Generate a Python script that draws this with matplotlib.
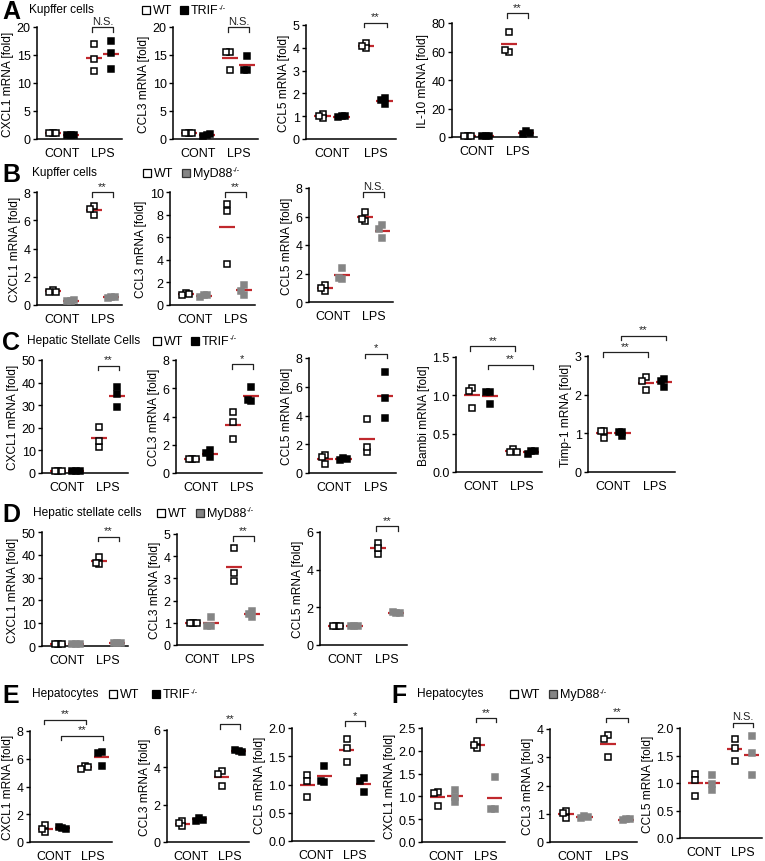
import numpy as np
import matplotlib
matplotlib.use('Agg')
import matplotlib.pyplot as plt
from matplotlib.patches import Rectangle
from matplotlib.text import Annotation

plt.rcParams['font.family'] = ['Liberation Sans', 'DejaVu Sans']

W, H = 765, 862
RED = '#c0282d'
GRAY = '#858585'
POS = [0.0, 1.0, 2.3, 3.3]   # WT CONT, KO CONT, WT LPS, KO LPS

# values: [CONT, LPS], three mice each
a1_wt = [[1.0, 1.0, 1.0], [17.0, 14.2, 12.2]]
a1_ko = [[0.8, 0.7, 0.75], [17.5, 15.4, 12.5]]
a2_wt = [[1.0, 1.0, 1.0], [15.5, 15.5, 12.3]]
a2_ko = [[0.8, 0.5, 0.9], [14.8, 12.3, 12.3]]
a3_wt = [[1.1, 0.9, 1.0], [4.2, 4.0, 4.1]]
a3_ko = [[1.0, 0.95, 1.0], [1.8, 1.55, 1.7]]
a4_wt = [[1.0, 1.0, 1.0], [60.0, 74.0, 61.0]]
a4_ko = [[0.5, 0.5, 0.5], [4.0, 2.0, 3.0]]

b1_wt = [[1.05, 0.9, 0.95], [6.4, 7.0, 6.8]]
b1_ko = [[0.3, 0.28, 0.35], [0.6, 0.5, 0.55]]
b2_wt = [[1.1, 0.9, 1.0], [8.9, 3.6, 8.3]]
b2_ko = [[0.9, 0.7, 0.85], [0.9, 1.75, 1.25]]
b3_wt = [[1.2, 0.8, 1.0], [5.7, 6.3, 5.8]]
b3_ko = [[1.6, 2.4, 1.7], [5.4, 4.5, 5.1]]

c1_wt = [[1.0, 1.0, 1.0], [11.5, 20.3, 14.3]]
c1_ko = [[1.0, 1.0, 1.0], [38.0, 29.0, 35.0]]
c2_wt = [[1.0, 1.0, 1.0], [2.4, 4.3, 3.6]]
c2_ko = [[1.1, 1.6, 1.4], [5.1, 6.1, 5.2]]
c3_wt = [[0.65, 1.25, 1.1], [1.45, 3.75, 1.8]]
c3_ko = [[1.05, 0.9, 1.0], [7.0, 5.25, 3.8]]
c4_wt = [[1.1, 0.84, 1.06], [0.3, 0.26, 0.26]]
c4_ko = [[1.05, 0.89, 1.05], [0.27, 0.23, 0.27]]
c5_wt = [[1.06, 0.88, 1.06], [2.45, 2.12, 2.35]]
c5_ko = [[1.04, 0.92, 1.03], [2.2, 2.4, 2.35]]

d1_wt = [[1.0, 1.0, 1.0], [39.0, 36.0, 36.5]]
d1_ko = [[1.0, 1.0, 1.0], [1.5, 1.5, 1.5]]
d2_wt = [[1.0, 1.0, 1.0], [2.9, 4.35, 3.25]]
d2_ko = [[1.25, 0.85, 0.85], [1.25, 1.55, 1.4]]
d3_wt = [[1.0, 1.0, 1.0], [4.85, 5.4, 5.15]]
d3_ko = [[1.0, 1.0, 1.0], [1.7, 1.75, 1.7]]

e1_wt = [[1.2, 0.75, 0.95], [5.5, 5.25, 5.4]]
e1_ko = [[1.0, 1.05, 0.95], [6.5, 5.5, 6.4]]
e2_wt = [[1.1, 0.85, 1.0], [3.8, 3.0, 3.65]]
e2_ko = [[1.3, 1.15, 1.2], [4.9, 4.95, 4.8]]
e3_wt = [[1.17, 0.77, 1.06], [1.4, 1.8, 1.65]]
e3_ko = [[1.04, 1.33, 1.06], [1.12, 0.86, 1.07]]

f1_wt = [[1.1, 0.78, 1.08], [2.22, 2.07, 2.12]]
f1_ko = [[0.88, 1.15, 0.98], [1.42, 0.73, 0.73]]
f2_wt = [[1.08, 0.85, 1.02], [3.8, 3.0, 3.65]]
f2_ko = [[0.92, 0.85, 0.9], [0.8, 0.78, 0.8]]
f3_wt = [[1.17, 0.76, 1.06], [1.4, 1.8, 1.63]]
f3_ko = [[0.88, 1.14, 0.98], [1.15, 1.85, 1.55]]

# significance brackets: (group a, group b, height, label)
a1_sig = [(2, 3, 20.0, 'N.S.')]
a2_sig = [(2, 3, 20.0, 'N.S.')]
a3_sig = [(2, 3, 5.1, '**')]
a4_sig = [(2, 3, 87.0, '**')]
b1_sig = [(2, 3, 8.0, '**')]
b2_sig = [(2, 3, 10.0, '**')]
b3_sig = [(2, 3, 7.7, 'N.S.')]
c1_sig = [(2, 3, 47.5, '**')]
c2_sig = [(2, 3, 7.7, '*')]
c3_sig = [(2, 3, 8.3, '*')]
c4_sig = [(0, 2, 1.64, '**'), (1, 3, 1.4, '**')]
c5_sig = [(0, 2, 3.1, '**'), (1, 3, 3.52, '**')]
d1_sig = [(2, 3, 48.0, '**')]
d2_sig = [(2, 3, 4.9, '**')]
d3_sig = [(2, 3, 6.3, '**')]
e1_sig = [(0, 2, 8.8, '**'), (1, 3, 7.65, '**')]
e2_sig = [(2, 3, 6.3, '**')]
e3_sig = [(2, 3, 2.12, '*')]
f1_sig = [(2, 3, 2.72, '**')]
f2_sig = [(2, 3, 4.4, '**')]
f3_sig = [(2, 3, 2.1, 'N.S.')]

fig = plt.figure(figsize=(W / 100, H / 100), dpi=100)


def swarm(vals, h, s=0.2):
    # spread overlapping points sideways
    placed = []
    offs = []
    for v in vals:
        for o in [0, -s, s, -2 * s, 2 * s]:
            if all(abs(o - po) > s * 0.9 or abs(v - pv) > h for po, pv in placed):
                break
        placed.append((o, v))
        offs.append(o)
    return offs


def panel(rect, ylabel, yticks, wt, ko, ko_color, sig, fmt=None):
    l, t, r, b = rect
    ax = fig.add_axes([l / W, 1 - b / H, (r - l) / W, (b - t) / H])
    ymax = yticks[-1]
    ax.set_xlim(-0.9, 3.9)
    ax.set_ylim(0, ymax)
    h = 4.5 * ymax / (b - t)
    groups = [(wt[0], 'white'), (ko[0], ko_color), (wt[1], 'white'), (ko[1], ko_color)]
    for gi, (vals, fc) in enumerate(groups):
        x0 = POS[gi]
        ax.plot([x0 - 0.45, x0 + 0.45], [np.mean(vals)] * 2, color=RED, lw=1.6,
                zorder=2, clip_on=False, solid_capstyle='butt')
        offs = swarm(vals, h)
        ec = 'black' if fc == 'white' else fc
        ax.plot(x0 + np.array(offs), vals, ls='none', marker='s', ms=4.4, mfc=fc,
                mec=ec, mew=1.1, zorder=3, clip_on=False)
    drop = 4.5 * ymax / (b - t)
    for g1, g2, y, txt in sig:
        x1, x2 = POS[g1] - 0.1, POS[g2] + 0.1
        ax.plot([x1, x1, x2, x2], [y - drop, y, y, y - drop], color='#222222',
                lw=0.9, clip_on=False)
        ax.text((x1 + x2) / 2, y + 0.3 * drop, txt, ha='center', va='bottom',
                fontsize=8, color='#222222')
    ax.set_yticks(yticks)
    if fmt:
        ax.set_yticklabels([fmt % v for v in yticks])
    ax.set_xticks([0.5, 2.8])
    ax.set_xticklabels(['CONT', 'LPS'])
    ax.tick_params(axis='x', length=0, pad=6, labelsize=9)
    ax.tick_params(axis='y', length=3, width=1, pad=1.5, labelsize=9)
    for sp in ['top', 'right']:
        ax.spines[sp].set_visible(False)
    for sp in ['left', 'bottom']:
        ax.spines[sp].set_linewidth(1.1)
    ax.set_ylabel(ylabel, fontsize=8.6, labelpad=2)
    ax.patch.set_alpha(0)
    return ax


def header(letter, lx, title, tx, y, sq1, sq2, ko_label, ko_color):
    fig.text(lx / W, 1 - y / H, letter, fontsize=18, fontweight='bold',
             ha='left', va='center')
    fig.text(tx / W, 1 - (y - 2) / H, title, fontsize=8.6, ha='left', va='center')
    for cx, fc, ec, lab in [(sq1, 'white', 'black', 'WT'),
                            (sq2, ko_color, '#333333' if ko_color != 'black' else 'black',
                             ko_label)]:
        fig.add_artist(Rectangle(((cx - 4) / W, 1 - (y + 3) / H), 8 / W, 8 / H,
                                 transform=fig.transFigure, facecolor=fc,
                                 edgecolor=ec, lw=0.9))
        tt = fig.text((cx + 7) / W, 1 - (y - 1) / H, lab, fontsize=9, ha='left',
                      va='center')
        if lab != 'WT':
            sup = Annotation('-/-', xy=(1.0, 0.75), xycoords=tt, fontsize=5.5,
                             ha='left', va='center')
            fig.add_artist(sup)


header('A', 2, 'Kupffer cells', 29, 12, 146, 184, 'TRIF', 'black')
panel((37, 28, 122, 140), 'CXCL1 mRNA [fold]', [0, 5, 10, 15, 20], a1_wt, a1_ko, 'black', a1_sig)
panel((173, 28, 258, 140), 'CCL3 mRNA [fold]', [0, 5, 10, 15, 20], a2_wt, a2_ko, 'black', a2_sig)
panel((306, 26, 396, 140), 'CCL5 mRNA [fold]', [0, 1, 2, 3, 4, 5], a3_wt, a3_ko, 'black', a3_sig)
panel((452, 24, 537, 138), 'IL-10 mRNA [fold]', [0, 20, 40, 60, 80], a4_wt, a4_ko, 'black', a4_sig)

header('B', 2, 'Kupffer cells', 32, 175, 147, 186, 'MyD88', GRAY)
panel((37, 193, 122, 306), 'CXCL1 mRNA [fold]', [0, 2, 4, 6, 8], b1_wt, b1_ko, GRAY, b1_sig)
panel((170, 193, 255, 306), 'CCL3 mRNA [fold]', [0, 2, 4, 6, 8, 10], b2_wt, b2_ko, GRAY, b2_sig)
panel((309, 189, 393, 303), 'CCL5 mRNA [fold]', [0, 2, 4, 6, 8], b3_wt, b3_ko, GRAY, b3_sig)

header('C', 2, 'Hepatic Stellate Cells', 27, 343, 157, 195, 'TRIF', 'black')
panel((42, 361, 128, 474), 'CXCL1 mRNA [fold]', [0, 10, 20, 30, 40, 50], c1_wt, c1_ko, 'black', c1_sig)
panel((176, 361, 262, 474), 'CCL3 mRNA [fold]', [0, 2, 4, 6, 8], c2_wt, c2_ko, 'black', c2_sig)
panel((309, 359, 396, 474), 'CCL5 mRNA [fold]', [0, 2, 4, 6, 8], c3_wt, c3_ko, 'black', c3_sig)
panel((456, 358, 542, 473), 'Bambi mRNA [fold]', [0, 0.5, 1.0, 1.5], c4_wt, c4_ko, 'black', c4_sig, '%.1f')
panel((588, 357, 675, 473), 'Timp-1 mRNA [fold]', [0, 1, 2, 3], c5_wt, c5_ko, 'black', c5_sig)

header('D', 2, 'Hepatic stellate cells', 33, 515, 161, 200, 'MyD88', GRAY)
panel((42, 533, 128, 647), 'CXCL1 mRNA [fold]', [0, 10, 20, 30, 40, 50], d1_wt, d1_ko, GRAY, d1_sig)
panel((177, 535, 263, 646), 'CCL3 mRNA [fold]', [0, 1, 2, 3, 4, 5], d2_wt, d2_ko, GRAY, d2_sig)
panel((320, 533, 407, 646), 'CCL5 mRNA [fold]', [0, 2, 4, 6], d3_wt, d3_ko, GRAY, d3_sig)

header('E', 2, 'Hepatocytes', 32, 696, 113, 156, 'TRIF', 'black')
panel((30, 732, 112, 843), 'CXCL1 mRNA [fold]', [0, 2, 4, 6, 8], e1_wt, e1_ko, 'black', e1_sig)
panel((167, 731, 249, 843), 'CCL3 mRNA [fold]', [0, 2, 4, 6], e2_wt, e2_ko, 'black', e2_sig)
panel((292, 729, 374, 842), 'CCL5 mRNA [fold]', [0, 0.5, 1.0, 1.5, 2.0], e3_wt, e3_ko, 'black', e3_sig, '%.1f')

header('F', 391, 'Hepatocytes', 417, 696, 514, 553, 'MyD88', GRAY)
panel((422, 729, 505, 843), 'CXCL1 mRNA [fold]', [0, 0.5, 1.0, 1.5, 2.0, 2.5], f1_wt, f1_ko, GRAY, f1_sig, '%.1f')
panel((550, 730, 637, 843), 'CCL3 mRNA [fold]', [0, 1, 2, 3, 4], f2_wt, f2_ko, GRAY, f2_sig)
panel((680, 729, 762, 839), 'CCL5 mRNA [fold]', [0, 0.5, 1.0, 1.5, 2.0], f3_wt, f3_ko, GRAY, f3_sig, '%.1f')

fig.savefig('out.png', dpi=100)
